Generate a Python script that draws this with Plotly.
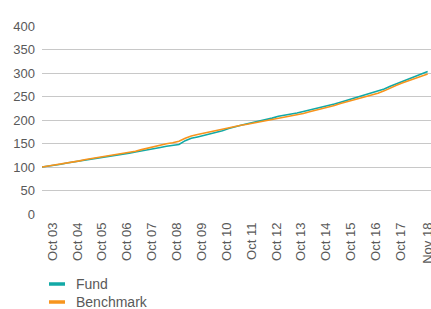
import plotly.graph_objects as go

# Quarterly observations (first of month)
dates = [
    "2003-05-01", "2003-08-01", "2003-11-01", "2004-02-01", "2004-05-01", "2004-08-01", "2004-11-01",
    "2005-02-01", "2005-05-01", "2005-08-01", "2005-11-01", "2006-02-01", "2006-05-01", "2006-08-01",
    "2006-11-01", "2007-02-01", "2007-05-01", "2007-08-01", "2007-11-01", "2008-02-01", "2008-05-01",
    "2008-08-01", "2008-11-01", "2009-02-01", "2009-05-01", "2009-08-01", "2009-11-01", "2010-02-01",
    "2010-05-01", "2010-08-01", "2010-11-01", "2011-02-01", "2011-05-01", "2011-08-01", "2011-11-01",
    "2012-02-01", "2012-05-01", "2012-08-01", "2012-11-01", "2013-02-01", "2013-05-01", "2013-08-01",
    "2013-11-01", "2014-02-01", "2014-05-01", "2014-08-01", "2014-11-01", "2015-02-01", "2015-05-01",
    "2015-08-01", "2015-11-01", "2016-02-01", "2016-05-01", "2016-08-01", "2016-11-01", "2017-02-01",
    "2017-05-01", "2017-08-01", "2017-11-01", "2018-02-01", "2018-05-01", "2018-08-01", "2018-11-01",
]

fund = [
    100, 101.5, 103.5, 106, 108.5, 110.5, 112.5,
    115.5, 117.5, 119.5, 121.5, 123, 125, 127.5,
    129.5, 132, 134, 136.5, 139, 141.5, 144,
    146, 148, 156, 161, 164, 167, 170,
    173, 177, 182, 186, 189, 192, 195,
    197, 200, 204, 208, 210, 213, 215,
    218, 221, 224, 228, 231, 234, 238,
    242, 245, 249, 253, 257, 261, 266,
    272, 277, 282, 288, 293, 298, 303,
]

benchmark = [
    100, 102, 104, 106.5, 109, 111, 113,
    116, 118, 120, 122, 124, 126, 128.5,
    131, 133.5, 137, 140.5, 144, 147, 149.5,
    151.5, 155, 161, 166, 169, 172, 175,
    177.5, 180.5, 184, 187, 189, 191, 193.5,
    196, 199.5, 202.5, 205, 207, 209, 211.5,
    214, 217.5, 220.5, 224, 227, 231, 235,
    238.5, 242, 246, 249.5, 253, 257, 262,
    268.5, 274, 279, 284, 289.5, 294, 298,
]

series_names = ["Fund", "Benchmark"]
series_colors = ["#12A9A6", "#F7941D"]

tick_dates = [
    "2003-10-01", "2004-10-01", "2005-10-01", "2006-10-01", "2007-10-01", "2008-10-01",
    "2009-10-01", "2010-10-01", "2011-10-01", "2012-10-01", "2013-10-01", "2014-10-01",
    "2015-10-01", "2016-10-01", "2017-10-01", "2018-11-01",
]
tick_labels = [
    "Oct 03", "Oct 04", "Oct 05", "Oct 06", "Oct 07", "Oct 08", "Oct 09", "Oct 10",
    "Oct 11", "Oct 12", "Oct 13", "Oct 14", "Oct 15", "Oct 16", "Oct 17", "Nov 18",
]
y_ticks = [0, 50, 100, 150, 200, 250, 300, 350, 400]

fig = go.Figure()
for name, vals, col in zip(series_names, [fund, benchmark], series_colors):
    fig.add_trace(go.Scatter(x=dates, y=vals, mode="lines", name=name,
                             line=dict(color=col, width=1.6), showlegend=False))

# Manual legend (positions in pixels converted to paper coords)
PL, PW, PB, PH = 42, 389, 214, 188
for name, col, ypx in zip(series_names, series_colors, [284, 302]):
    yp = (PB - ypx) / PH
    fig.add_shape(type="line", xref="paper", yref="paper",
                  x0=(49 - PL) / PW, x1=(65 - PL) / PW, y0=yp, y1=yp,
                  line=dict(color=col, width=3.5))
    fig.add_annotation(x=(74 - PL) / PW, y=yp, xref="paper", yref="paper",
                       text=name, showarrow=False, xanchor="left", yanchor="middle",
                       font=dict(size=14, color="#595959"))

fig.update_layout(
    width=431, height=309,
    margin=dict(l=42, r=0, t=26, b=95),
    paper_bgcolor="white", plot_bgcolor="white",
    font=dict(family="Liberation Sans, Arial, sans-serif", size=13, color="#595959"),
    xaxis=dict(type="date", range=["2003-05-01", "2018-12-20"], automargin=False,
               tickvals=tick_dates, ticktext=tick_labels, tickangle=-90,
               ticklabeloverflow="allow", ticklabelstandoff=5,
               showgrid=False, showline=False, zeroline=False, ticks="",
               tickfont=dict(size=13, color="#595959")),
    yaxis=dict(range=[0, 400], tickvals=y_ticks, showgrid=True, automargin=False,
               gridcolor="#C8C8C8", gridwidth=1, zeroline=False, showline=False,
               ticks="", ticklabelstandoff=6, tickfont=dict(size=13, color="#595959")),
    showlegend=False,
)

fig.write_html("out.html", config={"displayModeBar": False, "staticPlot": True})

# remove the default page margin so the figure sits at the window's top-left corner
with open("out.html", "r", encoding="utf-8") as f:
    html = f.read()
html = html.replace("<head>", "<head><style>html,body{margin:0;padding:0;overflow:hidden}</style>", 1)
with open("out.html", "w", encoding="utf-8") as f:
    f.write(html)
